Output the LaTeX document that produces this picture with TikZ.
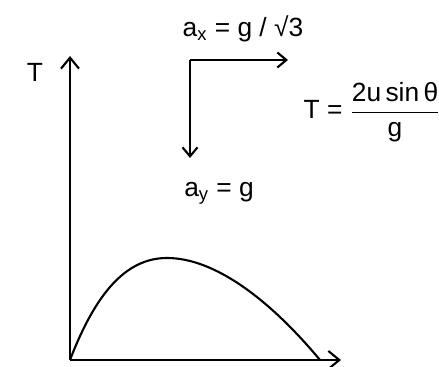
\documentclass[tikz,border=0pt]{standalone}
\usepackage{amsmath}
\usepackage{fontspec}
\setmainfont{Liberation Sans}
\usetikzlibrary{arrows.meta}

\begin{document}
\begin{tikzpicture}[x=0.02cm,y=-0.02cm,
  lbl/.style={font=\fontsize{15}{18}\selectfont,inner sep=0pt},
  axis/.style={line width=1.2pt,-{Straight Barb[length=2.2mm,width=3.6mm]}},
  arr/.style={line width=1.2pt,-{Straight Barb[length=1.8mm,width=3mm]}}]
\useasboundingbox (0,0) rectangle (439,367);
% axes
\coordinate (O) at (70,360);
\coordinate (ytip) at (70,56);
\coordinate (xtip) at (341,360);
\draw[axis] (O) -- (ytip);
\draw[axis] (O) -- (xtip);
\node[lbl] (T) at (35,72) {T};
% trajectory
\draw[line width=1.2pt] (O) .. controls (95,295) and (125,258) .. (167,258)
  .. controls (215,258) and (270,300) .. (320,360);
% acceleration components
\coordinate (c) at (190,60);
\coordinate (cx) at (288,60);
\coordinate (cy) at (190,158);
\draw[arr] (c) -- (cx);
\draw[arr] (c) -- (cy);
\node[lbl] (ax) at (243,29) {a$_{\text{x}}$ = g / \char"221A 3};
\node[lbl] (ay) at (219,193) {a$_{\text{y}}$ = g};
\node[lbl] (Tf) at (372,112) {T = $\dfrac{\text{2u\,sin\,θ}}{\text{g}}$};
\end{tikzpicture}
\end{document}
